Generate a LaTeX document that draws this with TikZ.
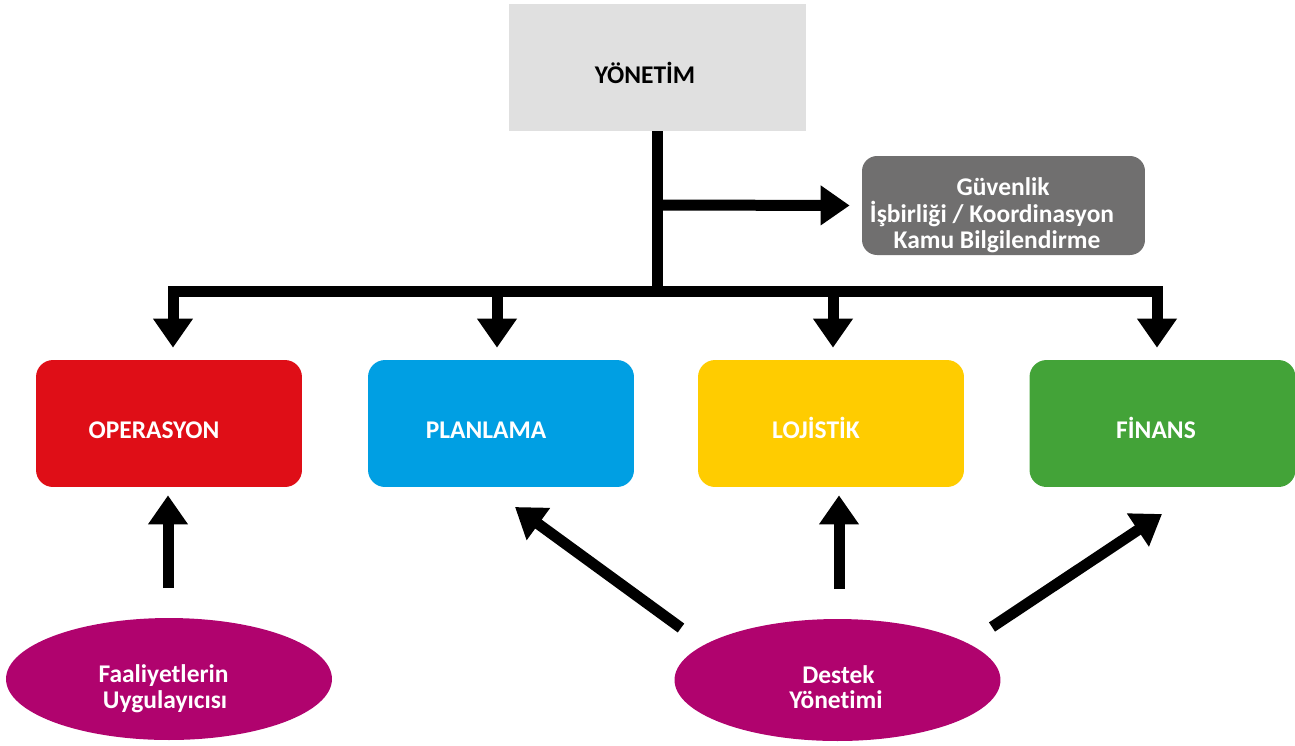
\documentclass[tikz,border=0pt]{standalone}
\usepackage{fontspec}
\setmainfont{Carlito}[Ligatures=NoCommon]
\usetikzlibrary{arrows.meta,shapes.geometric}
\definecolor{headgray}{HTML}{E0E0E0}
\definecolor{staffgray}{HTML}{706F6F}
\definecolor{opsred}{HTML}{DF0E17}
\definecolor{planblue}{HTML}{009FE3}
\definecolor{logyellow}{HTML}{FFCC00}
\definecolor{fingreen}{HTML}{43A338}
\definecolor{rolepurple}{HTML}{B0036E}
\begin{document}
\begin{tikzpicture}[x=0.02cm,y=-0.02cm,
  lbl/.style={font=\bfseries\fontsize{14.5}{16}\selectfont, inner sep=0pt, anchor=base},
  wlbl/.style={lbl, text=white},
  unit/.style={rounded corners=0.34cm, minimum width=5.32cm, minimum height=2.54cm, inner sep=0pt},
  oval/.style={ellipse, fill=rolepurple, minimum width=6.52cm, minimum height=2.44cm, inner sep=0pt},
  conn/.style={line width=0.22cm},
  arr/.style={conn, -{Triangle[length=0.58cm,width=0.76cm]}}]
\useasboundingbox (0,0) rectangle (1295,745);

% command box
\node[fill=headgray, minimum width=5.94cm, minimum height=2.54cm, inner sep=0pt] (yon) at (657.5,67.5) {};
\node[lbl] (yonT) at (645,83) {YÖNETİM};

% command staff
\node[fill=staffgray, rounded corners=0.3cm, minimum width=5.66cm, minimum height=1.98cm, inner sep=0pt] (guv) at (1003.5,205.5) {};
\node[wlbl] (guvT1) at (1003,195) {Güvenlik};
\node[wlbl] (guvT2) at (992,222) {İşbirliği / Koordinasyon};
\node[wlbl] (guvT3) at (997,248) {Kamu Bilgilendirme};

% sections
\node[unit, fill=opsred]   (ops) at (169,423.5) {};
\node[unit, fill=planblue] (pla) at (501,423.5) {};
\node[unit, fill=logyellow](loj) at (831,423.5) {};
\node[unit, fill=fingreen] (fin) at (1162.5,423.5) {};
\node[wlbl] (opsT) at (154,438) {OPERASYON};
\node[wlbl] (plaT) at (486,438) {PLANLAMA};
\node[wlbl] (lojT) at (816,438) {LOJİSTİK};
\node[wlbl] (finT) at (1156,438) {FİNANS};

% roles
\node[oval] (fa) at (169,679) {};
\node[wlbl] (faT1) at (163.5,682) {Faaliyetlerin};
\node[wlbl] (faT2) at (165,708) {Uygulayıcısı};
\node[oval] (de) at (837.5,680) {};
\node[wlbl] (deT1) at (838.5,683) {Destek};
\node[wlbl] (deT2) at (836,708) {Yönetimi};

% connector anchor points
\coordinate (trunk) at (657.5,291);
\coordinate (gtap) at (657.5,205);
\coordinate (bO) at (173,291);
\coordinate (bP) at (497,291);
\coordinate (bL) at (833,291);
\coordinate (bF) at (1157,291);
\coordinate (uO) at (168,588);
\coordinate (uD) at (839,589);
\coordinate (dP0) at (681,628);
\coordinate (dP1) at (515,507);
\coordinate (dF0) at (992,627);
\coordinate (dF1) at (1162,514);

% command line and bus
\draw[conn] (yon.south) -- (trunk);
\draw[arr, shorten >=0.24cm] (gtap) -- (guv.west);
\draw[conn, {Triangle[length=0.58cm,width=0.76cm]}-{Triangle[length=0.58cm,width=0.76cm]}, shorten <=0.24cm, shorten >=0.24cm]
  (bO |- ops.north) -- (bO) -- (bF) -- (bF |- fin.north);
\draw[arr, shorten >=0.24cm] (bP) -- (bP |- pla.north);
\draw[arr, shorten >=0.24cm] (bL) -- (bL |- loj.north);

% role arrows
\draw[arr, shorten >=0.16cm] (uO) -- (uO |- ops.south);
\draw[arr, shorten >=0.16cm] (uD) -- (uD |- loj.south);
\draw[arr] (dP0) -- (dP1);
\draw[arr] (dF0) -- (dF1);
\end{tikzpicture}
\end{document}
